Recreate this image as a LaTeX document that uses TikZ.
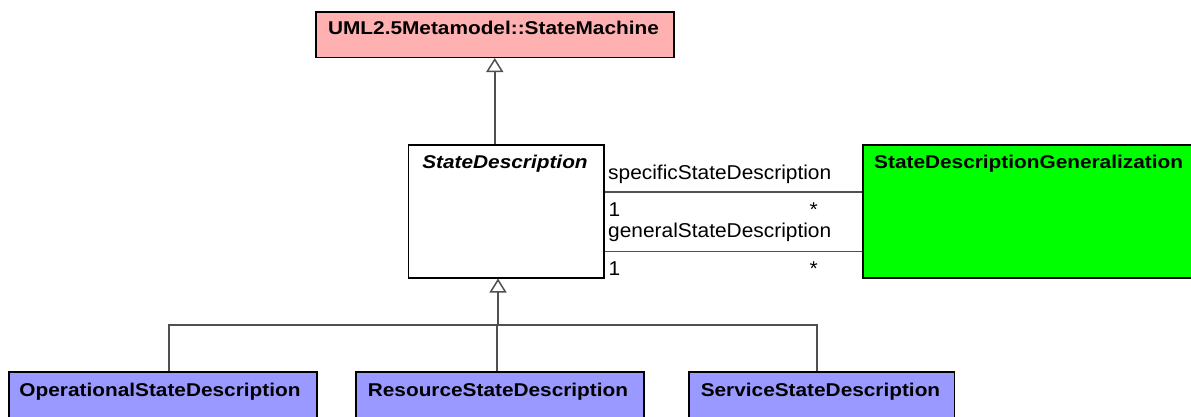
\documentclass[tikz,border=0pt]{standalone}
\usepackage{fontspec}
\setmainfont{Liberation Sans}
\newfontfamily\labelfont{Liberation Sans}[FakeStretch=1.045]
\newfontfamily\titlefont{Liberation Sans}[FakeStretch=1.125]
\usetikzlibrary{arrows.meta}
\definecolor{pinkbox}{RGB}{255,176,176}
\definecolor{bluebox}{RGB}{153,153,255}
\definecolor{greenbox}{RGB}{0,255,0}
\definecolor{conncol}{RGB}{80,80,80}
\tikzset{
  box/.style={draw=black, line width=1.5pt, inner sep=0pt, anchor=north west},
  conn/.style={draw=conncol, line width=1.5pt},
  gen/.style={conn, -{Triangle[length=14pt,width=17pt,fill=white,line width=1.5pt]}},
  txt/.style={inner sep=0pt, font=\labelfont\fontsize{20}{23}\selectfont},
  ttl/.style={inner sep=0pt, font=\titlefont\fontsize{18.5}{21}\selectfont\bfseries},
}
\begin{document}
\begin{tikzpicture}[x=1pt,y=-1pt]
\useasboundingbox (0,0) rectangle (1191,416);
\clip (0,0) rectangle (1191,416);
% boxes
\node[box, fill=pinkbox, minimum width=358pt, minimum height=45.5pt] (sm) at (315,11) {};
\node[box, fill=white, minimum width=195.5pt, minimum height=133pt] (sd) at (407.5,144) {};
\node[box, fill=greenbox, minimum width=334pt, minimum height=133pt] (sdg) at (862,144) {};
\node[box, fill=bluebox, minimum width=308pt, minimum height=70pt] (osd) at (8,371) {};
\node[box, fill=bluebox, minimum width=288pt, minimum height=70pt] (rsd) at (355,371) {};
\node[box, fill=bluebox, minimum width=265.5pt, minimum height=70pt] (ssd) at (688,371) {};
% titles
\node[ttl, anchor=base] (smt) at (493.5,34.5) {UML2.5Metamodel::StateMachine};
\node[ttl, anchor=base, font=\titlefont\fontsize{18.5}{21}\selectfont\bfseries\itshape] (sdt) at (505,168) {StateDescription};
\node[ttl, anchor=base west] (sdgt) at (874,168) {StateDescriptionGeneralization};
\node[ttl, anchor=base] (osdt) at (160,396) {OperationalStateDescription};
\node[ttl, anchor=base] (rsdt) at (498,396) {ResourceStateDescription};
\node[ttl, anchor=base] (ssdt) at (820.5,396) {ServiceStateDescription};
% generalization to StateMachine
\draw[gen] (sd.north -| sm.south) -- (sm.south);
% generalization tree
\coordinate (j) at (498,325);
\draw[gen] (j) -- (j |- sd.south);
\draw[conn] ([xshift=6pt]osd.north) |- (j);
\draw[conn] ([xshift=-4.5pt]ssd.north) |- (j);
\draw[conn] ([xshift=-3pt]rsd.north) -- ([xshift=-3pt]rsd.north |- j);
% associations
\draw[conn] ([yshift=19.5pt]sd.east) -- ([yshift=19.5pt]sd.east -| sdg.west);
\draw[conn] ([yshift=-40pt]sd.east) -- ([yshift=-40pt]sd.east -| sdg.west);
% association labels
\node[txt, anchor=base west] (r1) at (608,179) {specificStateDescription};
\node[txt, anchor=base west] (m1a) at (608.5,216.5) {1};
\node[txt, anchor=base west] (m1b) at (809.5,216.5) {*};
\node[txt, anchor=base west] (r2) at (608,237) {generalStateDescription};
\node[txt, anchor=base west] (m2a) at (608.5,275) {1};
\node[txt, anchor=base west] (m2b) at (809.5,275) {*};
\end{tikzpicture}
\end{document}
